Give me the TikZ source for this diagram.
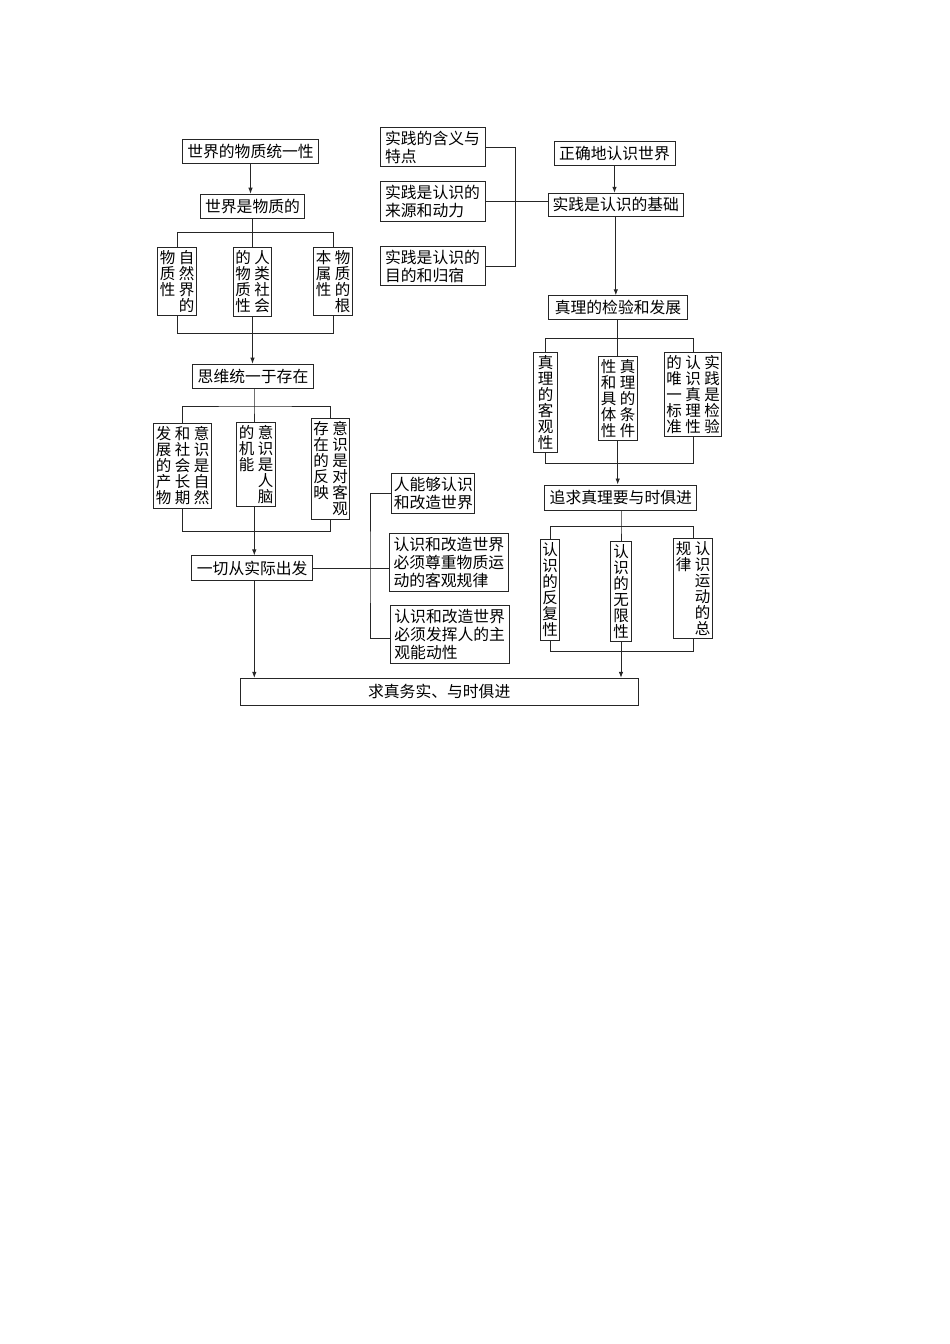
\documentclass[tikz,border=0pt]{standalone}
\usepackage{fontspec}
\setmainfont{Noto Sans CJK SC}
\usetikzlibrary{arrows.meta}
\definecolor{ln}{HTML}{262626}
\newcommand{\vc}[1]{\parbox[t]{15.5pt}{\centering\fontsize{15.5}{16}\selectfont #1}}
\newcommand{\vg}{\hspace{3.5pt}}
\begin{document}
\begin{tikzpicture}[x=1pt,y=-1pt,
  box/.style={draw=ln, line width=1pt, inner sep=2pt, font=\fontsize{15.8}{18}\selectfont, text=black},
  hb/.style={box, minimum height=24pt},
  mb/.style={box, align=left},
  vb/.style={box, anchor=north, inner xsep=2pt, inner ysep=3pt},
  wire/.style={draw=ln, line width=0.9pt},
  arr/.style={wire, -{Latex[length=6pt,width=4.5pt]}}]
\fill[white] (0,0) rectangle (950,1344);
\useasboundingbox (0,0) rectangle (950,1344);

% left column
\node[hb, minimum width=136.6pt] (n1) at (250.5,151.3) {世界的物质统一性};
\node[hb, minimum width=104pt] (n2) at (252.5,206.2) {世界是物质的};
\node[vb] (v1a) at (177,247.2) {\vc{物\\质\\性}\vg\vc{自\\然\\界\\的}};
\node[vb] (v1b) at (252.5,247.2) {\vc{的\\物\\质\\性}\vg\vc{人\\类\\社\\会}};
\node[vb] (v1c) at (333,247.2) {\vc{本\\属\\性}\vg\vc{物\\质\\的\\根}};
\coordinate (k1) at (252.5,232.7);
\coordinate (k2) at (252.5,333.3);
\node[hb, minimum width=120.6pt] (n3) at (253,376.2) {思维统一于存在};
\coordinate (k3) at (254,406);
\node[vb] (v2a) at (182.5,423.3) {\vc{发\\展\\的\\产\\物}\vg\vc{和\\社\\会\\长\\期}\vg\vc{意\\识\\是\\自\\然}};
\node[vb] (v2b) at (256,421.7) {\vc{的\\机\\能}\vg\vc{意\\识\\是\\人\\脑}};
\node[vb] (v2c) at (330.5,418.3) {\vc{存\\在\\的\\反\\映}\vg\vc{意\\识\\是\\对\\客\\观}};
\coordinate (k4) at (254.3,531.7);
\node[hb, minimum width=121pt, minimum height=24.7pt] (n4) at (252.2,568.3) {一切从实际出发};

% middle lower
\node[mb, minimum width=83.3pt, minimum height=40pt] (m1) at (433.3,493.3) {人能够认识\\和改造世界};
\node[mb, minimum width=119pt, minimum height=57.7pt] (m2) at (448.8,562.2) {认识和改造世界\\必须尊重物质运\\动的客观规律};
\node[mb, minimum width=119.3pt, minimum height=58.3pt] (m3) at (449.7,634.2) {认识和改造世界\\必须发挥人的主\\观能动性};
\coordinate (k5) at (370,568.3);

% middle upper
\node[mb, minimum width=105pt, minimum height=39pt] (t1) at (432.5,147.2) {实践的含义与\\特点};
\node[mb, minimum width=105pt, minimum height=40pt] (t2) at (432.5,201) {实践是认识的\\来源和动力};
\node[mb, minimum width=105pt, minimum height=39pt] (t3) at (432.5,266.2) {实践是认识的\\目的和归宿};
\coordinate (k6) at (515.7,202);

% right column
\node[hb, minimum width=121pt] (r1) at (614.5,153.7) {正确地认识世界};
\node[hb, minimum width=135pt, minimum height=22.7pt] (r2) at (615.8,204.7) {实践是认识的基础};
\node[hb, minimum width=139.4pt] (r3) at (618,307.8) {真理的检验和发展};
\coordinate (k7) at (617.7,338.3);
\node[vb, minimum width=24pt] (w1) at (545.5,351.7) {\vc{真\\理\\的\\客\\观\\性}};
\node[vb] (w2) at (618,356) {\vc{性\\和\\具\\体\\性}\vg\vc{真\\理\\的\\条\\件}};
\node[vb] (w3) at (693,351.7) {\vc{的\\唯\\一\\标\\准}\vg\vc{认\\识\\真\\理\\性}\vg\vc{实\\践\\是\\检\\验}};
\coordinate (k8) at (617.7,463.3);
\node[hb, minimum width=151.7pt, minimum height=25pt] (r4) at (620.8,497.5) {追求真理要与时俱进};
\coordinate (k9) at (621,526.7);
\node[vb] (u1) at (550,539.3) {\vc{认\\识\\的\\反\\复\\性}};
\node[vb, minimum width=21.7pt] (u2) at (621,541) {\vc{认\\识\\的\\无\\限\\性}};
\node[vb] (u3) at (693,538.3) {\vc{规\\律}\vg\vc{认\\识\\运\\动\\的\\总}};
\coordinate (k10) at (621,651.7);

\node[hb, minimum width=398.3pt, minimum height=26.7pt] (f) at (439.2,691.7) {求真务实、与时俱进};

% connectors left
\draw[arr] (n1.south) -- (n1.south |- n2.north);
\draw[wire] (n2.south) -- (v1b.north);
\draw[wire] (v1a.north) |- (k1) -| (v1c.north);
\draw[wire] (v1b.south) -- (k2);
\draw[wire] (v1a.south) |- (k2) -| (v1c.south);
\draw[arr] (k2) -- (k2 |- n3.north);
\draw[wire] (n3.south -| k3) -- (k3) -- (k3 |- v2b.north);
\draw[wire] (v2a.north) |- (k3) -| (v2c.north);
\draw[wire] (v2b.south -| k4) -- (k4);
\draw[wire] (v2a.south) |- (k4) -| (v2c.south);
\draw[arr] (k4) -- (k4 |- n4.north);
\draw[arr] (n4.south -| k4) -- (k4 |- f.north);

% connectors middle
\draw[wire] (n4.east) -- (n4.east -| m2.west);
\draw[wire] (m1.west) -| (k5) |- ([yshift=-4pt]m3.west);
\draw[wire] (t1.east) -| (k6) |- (t3.east);
\draw[wire] (t2.east) -- (t2.east -| r2.west);

% connectors right
\draw[arr] (r1.south) -- (r1.south |- r2.north);
\draw[arr] (r2.south) -- (r2.south |- r3.north);
\draw[wire] (r3.south -| k7) -- (k7) -- (k7 |- w2.north);
\draw[wire] (w1.north) |- (k7) -| (w3.north);
\draw[wire] (w2.south -| k8) -- (k8);
\draw[wire] (w1.south) |- (k8) -| (w3.south);
\draw[arr] (k8) -- (k8 |- r4.north);
\draw[wire] (r4.south -| k9) -- (k9) -- (k9 |- u2.north);
\draw[wire] (u1.north) |- (k9) -| (u3.north);
\draw[wire] (u2.south -| k10) -- (k10);
\draw[wire] (u1.south) |- (k10) -| (u3.south);
\draw[arr] (k10) -- (k10 |- f.north);
\end{tikzpicture}
\end{document}
